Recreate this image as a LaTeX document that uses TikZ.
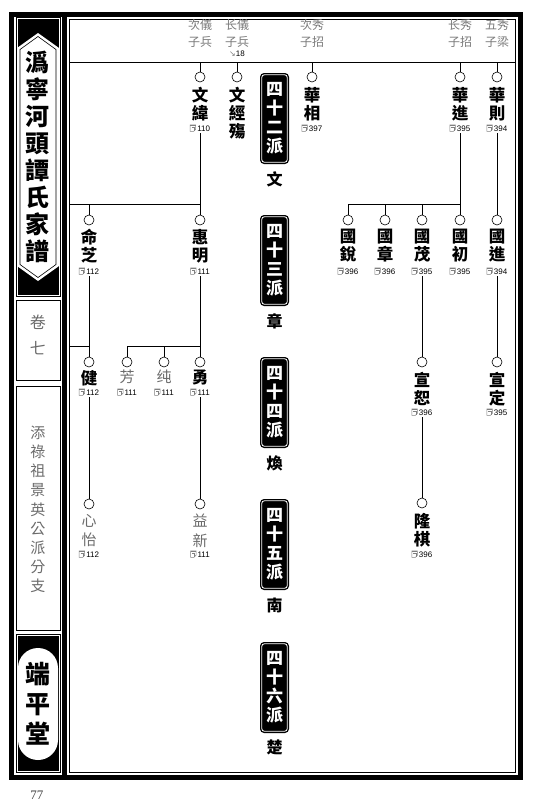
\documentclass[tikz,border=0pt]{standalone}
\usepackage{fontspec}
\setmainfont{Liberation Serif}
\newfontfamily\cjk{Noto Sans CJK TC}
\newfontfamily\numf{Liberation Sans}
\newfontfamily\symf{DejaVu Sans}
\usetikzlibrary{calc}
\definecolor{hgrey}{gray}{0.48}
\definecolor{ngrey}{gray}{0.42}
\newcommand\refic{\tikz[baseline=0pt,x=1pt,y=1pt]{\draw[line width=0.5pt,gray] (0,0) -- (0,6.5) -- (5.5,6.5) -- (5.5,2) -- (3.5,0) -- cycle; \fill[gray] (0,5.2) rectangle (5.5,6.5); \draw[line width=0.5pt,gray] (1.5,3.8) -- (4,3.8) -- (4,0.5);}}
\newcommand\person[8]{%
  \node[dot] (#1) at (#2,#3) {};
  \node[#8] (#1-n) at (#2,#3+#6) {#4};
  \node[rf] (#1-r) at (#2,#3+#7) {\refic\,#5};
}
\begin{document}
\begin{tikzpicture}[x=1pt,y=-1pt,
  dot/.style={circle,draw,line width=0.6pt,minimum size=10pt,inner sep=0pt,fill=white},
  nm/.style={anchor=north,inner sep=0pt,align=center,font=\cjk\bfseries\fontsize{16.5}{18}\selectfont},
  nmg/.style={anchor=north,inner sep=0pt,align=center,text=ngrey,font=\cjk\fontsize{15}{19.5}\selectfont},
  rf/.style={inner sep=1.5pt,font=\numf\fontsize{8}{8}\selectfont},
  link/.style={line width=0.8pt},
  hdr/.style={align=center,inner sep=0pt,text=hgrey,font=\cjk\fontsize{12}{17}\selectfont},
  genbox/.style={fill=black,rounded corners=4pt,minimum width=29pt,minimum height=91pt,inner sep=0pt,
    text=white,align=center,font=\cjk\bfseries\fontsize{17}{19}\selectfont,
    path picture={\draw[white,line width=0.8pt,rounded corners=2.5pt]
      ([shift={(1.8pt,-1.8pt)}]path picture bounding box.north west) rectangle
      ([shift={(-1.8pt,1.8pt)}]path picture bounding box.south east);}},
  genlab/.style={inner sep=0pt,font=\cjk\bfseries\fontsize{16}{16}\selectfont},
  sidetxt/.style={align=center,inner sep=0pt}
]
\useasboundingbox (0,0) rectangle (539,807);
% ---------- frames ----------
\draw[line width=5pt] (11.5,14.5) rectangle (520.5,777.5);
\fill (62,14) rectangle (66.5,777);
\draw[line width=0.8pt] (69,19) rectangle (515.5,772);
% ---------- left strip ----------
\fill (15.5,17) rectangle (60.5,297);
\draw[white,line width=0.6pt] (17,18.5) rectangle (59,295.5);
\fill[white] (38,33) -- (59,48) -- (59,266) -- (38,281) -- (17,266) -- (17,48) -- cycle;
\draw[line width=0.6pt] (38,36.5) -- (56,49.5) -- (56,264.5) -- (38,277.5) -- (20,264.5) -- (20,49.5) -- cycle;
\node[sidetxt,font=\cjk\bfseries\fontsize{24}{27}\selectfont] (title) at (38,156.5) {潙\\寧\\河\\頭\\譚\\氏\\家\\譜};
\draw[line width=0.8pt,fill=white] (16,300.5) rectangle (60,380.5);
\node[sidetxt,text=ngrey,font=\cjk\fontsize{16}{26}\selectfont] (vol) at (38,335) {卷\\七};
\draw[line width=0.8pt] (16,386) rectangle (60,630);
\node[sidetxt,text=ngrey,font=\cjk\fontsize{15}{19.2}\selectfont] (branch) at (38,509.5) {添\\祿\\祖\\景\\英\\公\\派\\分\\支};
\fill (15.5,634) rectangle (60.5,773);
\draw[white,line width=0.6pt] (17,635.5) rectangle (59,771.5);
\fill[white,rounded corners=20pt] (18,648) rectangle (58,760);
\node[sidetxt,font=\cjk\bfseries\fontsize{25}{30}\selectfont] (hall) at (38,704) {端\\平\\堂};
\node[inner sep=0pt,text=darkgray,font=\fontsize{13}{13}\selectfont] (pg) at (37,795) {77};
% ---------- header ----------
\coordinate (hl) at (69,62);
\coordinate (hr) at (515.5,62);
\draw[link] (hl) -- (hr);
\node[hdr] (h1) at (200,33.5) {次儀\\子兵};
\node[hdr] (h2) at (237,33.5) {长儀\\子兵};
\node[inner sep=0pt,font=\numf\fontsize{8}{8}\selectfont] (h2b) at (237,53.5) {{\symf\textcolor{hgrey}{↘}}18};
\node[hdr] (h3) at (312,33.5) {次秀\\子招};
\node[hdr] (h4) at (460,33.5) {长秀\\子招};
\node[hdr] (h5) at (497,33.5) {五秀\\子梁};
% ---------- generation column ----------
\node[genbox] (g42) at (274.5,118.5) {四\\十\\二\\派};
\node[genlab] (l42) at (274.5,179) {文};
\node[genbox] (g43) at (274.5,260.5) {四\\十\\三\\派};
\node[genlab] (l43) at (274.5,321) {章};
\node[genbox] (g44) at (274.5,402.5) {四\\十\\四\\派};
\node[genlab] (l44) at (274.5,463) {煥};
\node[genbox] (g45) at (274.5,544.5) {四\\十\\五\\派};
\node[genlab] (l45) at (274.5,605) {南};
\node[genbox] (g46) at (274.5,687.5) {四\\十\\六\\派};
\node[genlab] (l46) at (274.5,747) {楚};
% ---------- persons ----------
\person{wenwei}{200}{77}{文\\緯}{110}{10}{51}{nm}
\node[dot] (wenjing) at (237,77) {};
\node[nm] (wenjing-n) at (237,87) {文\\經\\殤};
\person{huaxiang}{312}{77}{華\\相}{397}{10}{51}{nm}
\person{huajin}{460}{77}{華\\進}{395}{10}{51}{nm}
\person{huaze}{497}{77}{華\\則}{394}{10}{51}{nm}
\person{mingzhi}{89}{220}{命\\芝}{112}{9}{51}{nm}
\person{huiming}{200}{220}{惠\\明}{111}{9}{51}{nm}
\person{guorui}{348}{220}{國\\銳}{396}{9}{51}{nm}
\person{guozhang}{385}{220}{國\\章}{396}{9}{51}{nm}
\person{guomao}{422}{220}{國\\茂}{395}{9}{51}{nm}
\person{guochu}{460}{220}{國\\初}{395}{9}{51}{nm}
\person{guojin}{497}{220}{國\\進}{394}{9}{51}{nm}
\person{jian}{89}{362}{健}{112}{8}{30}{nm}
\person{fang}{127}{362}{芳}{111}{8}{30}{nmg}
\person{chun}{164}{362}{纯}{111}{8}{30}{nmg}
\person{yong}{200}{362}{勇}{111}{8}{30}{nm}
\person{xuanshu}{422}{362}{宣\\恕}{396}{10}{50}{nm}
\person{xuanding}{497}{362}{宣\\定}{395}{10}{50}{nm}
\person{xinyi}{89}{504}{心\\怡}{112}{10}{50}{nmg}
\person{yixin}{200}{504}{益\\新}{111}{10}{50}{nmg}
\person{longqi}{422}{503}{隆\\棋}{396}{10}{51}{nm}
% ---------- connectors ----------
\foreach \p in {wenwei,wenjing,huaxiang,huajin,huaze}
  \draw[link] (\p) -- (\p |- hl);
\coordinate (bB) at (69,204);
\draw[link] (bB) -- (bB -| huiming);
\draw[link] (wenwei-r) -- (huiming);
\draw[link] (mingzhi) -- (mingzhi |- bB);
\draw[link] (guorui |- bB) -- (guochu |- bB);
\draw[link] (huajin-r) -- (guochu);
\foreach \p in {guorui,guozhang,guomao}
  \draw[link] (\p) -- (\p |- bB);
\draw[link] (huaze-r) -- (guojin);
\coordinate (bC) at (69,346);
\draw[link] (bC) -- (bC -| jian);
\draw[link] (mingzhi-r) -- (jian);
\draw[link] (huiming-r) -- (yong);
\draw[link] (fang |- bC) -- (yong |- bC);
\draw[link] (fang) -- (fang |- bC);
\draw[link] (chun) -- (chun |- bC);
\draw[link] (guomao-r) -- (xuanshu);
\draw[link] (guojin-r) -- (xuanding);
\draw[link] (jian-r) -- (xinyi);
\draw[link] (yong-r) -- (yixin);
\draw[link] (xuanshu-r) -- (longqi);
\end{tikzpicture}
\end{document}
